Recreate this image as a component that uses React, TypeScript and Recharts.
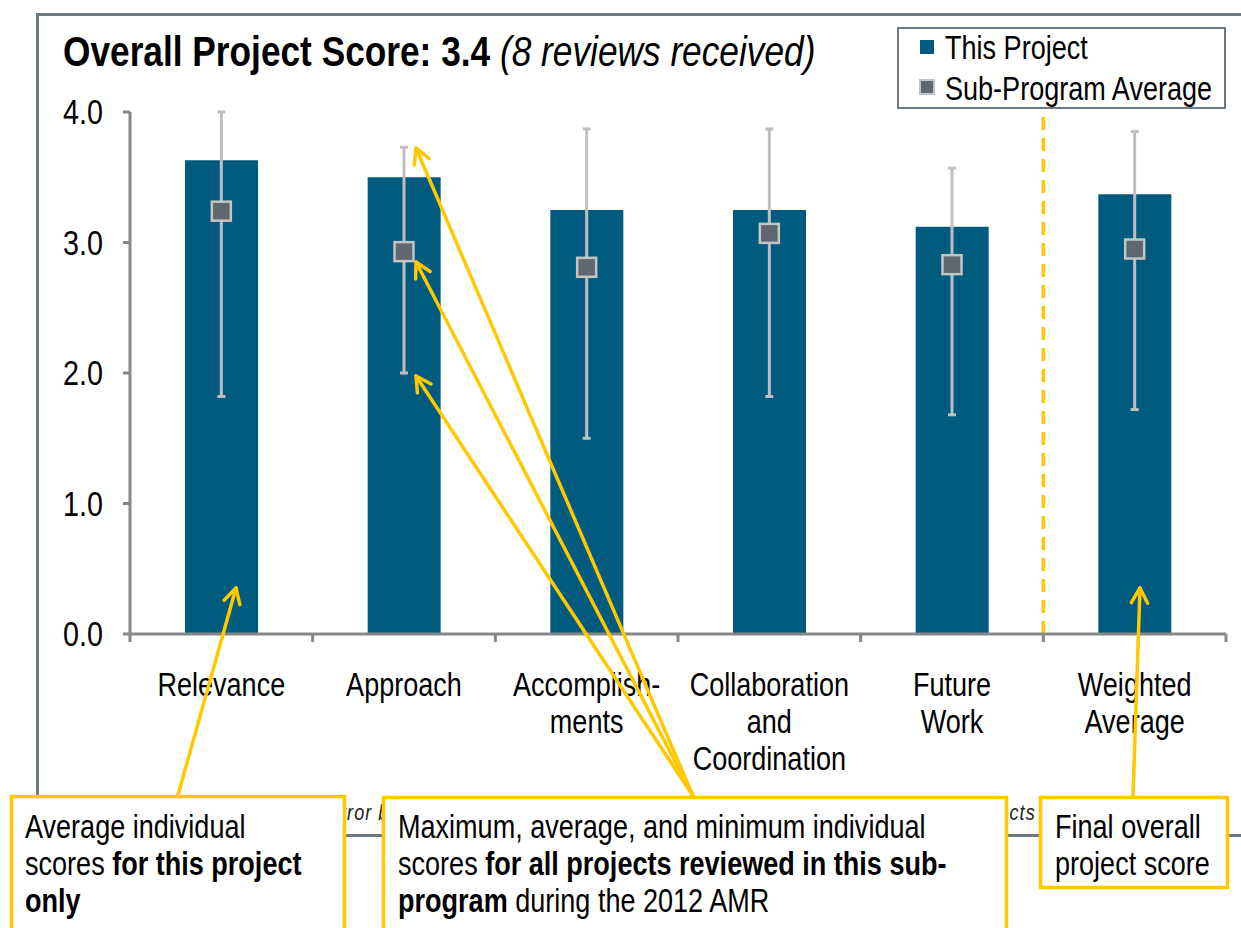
import React from 'react';
import { ComposedChart, Bar, Scatter, ErrorBar, XAxis, YAxis, ReferenceLine } from 'recharts';

const categories = ['Relevance', 'Approach', 'Accomplish-\nments', 'Collaboration\nand\nCoordination', 'Future\nWork', 'Weighted\nAverage'];
const projectScores = [3.63, 3.5, 3.25, 3.25, 3.12, 3.37];
const subProgramAvg = [3.24, 2.93, 2.81, 3.07, 2.83, 2.95];
const subProgramMax = [4.0, 3.73, 3.87, 3.87, 3.57, 3.85];
const subProgramMin = [1.82, 2.0, 1.5, 1.82, 1.68, 1.72];
const yTicks = [0, 1, 2, 3, 4];
const xTicks = [0, 0.5, 1, 1.5, 2, 2.5, 3, 3.5, 4, 4.5, 5, 5.5, 6];
const separatorAt = 5;

const data = categories.map((name, i) => ({
  name,
  pos: i + 0.5,
  project: projectScores[i],
  avg: subProgramAvg[i],
  err: [subProgramAvg[i] - subProgramMin[i], subProgramMax[i] - subProgramAvg[i]],
}));

const FONT = "'Liberation Sans', Arial, sans-serif";
const NARROW = 0.82;
const BAR = '#005B7F';
const MARK = '#5F6870';
const ERR = '#BFBFBF';
const AXIS = '#878787';
const GOLD = '#FFC800';
const FRAME = '#6E7880';

const NText = ({ x, y, anchor = 'start', size, children, ...rest }: any) => (
  <g transform={`translate(${x},${y}) scale(${NARROW},1)`}>
    <text x={0} y={0} textAnchor={anchor} fontSize={size} fontFamily={FONT} fill="#000" {...rest}>
      {children}
    </text>
  </g>
);

const XTick = (props: any) => {
  const { x, y, payload } = props;
  const v = Number(payload.value);
  if (Number.isInteger(v)) {
    return <line x1={x} y1={y} x2={x} y2={y + 8} stroke={AXIS} strokeWidth={3} />;
  }
  const idx = Math.floor(v);
  const lines = String(categories[idx] ?? '').split('\n');
  return (
    <g>
      {lines.map((l, i) => (
        <NText key={i} x={x} y={y + 62 + i * 37} anchor="middle" size={33}>{l}</NText>
      ))}
    </g>
  );
};

const YTick = (props: any) => {
  const { x, y, payload } = props;
  return <NText x={x} y={y + 12} anchor="end" size={35}>{Number(payload.value).toFixed(1)}</NText>;
};

const Square = (props: any) => {
  const { cx, cy } = props;
  if (cx == null || cy == null) return null;
  return <rect x={cx - 9.5} y={cy - 9.5} width={19} height={19} fill={MARK} stroke="#C4C4C4" strokeWidth={2.5} />;
};

const Arrow = ({ x1, y1, x2, y2 }: { x1: number; y1: number; x2: number; y2: number }) => {
  const ang = Math.atan2(y2 - y1, x2 - x1);
  const L = 17;
  const a = 0.5;
  const p1 = [x2 - L * Math.cos(ang - a), y2 - L * Math.sin(ang - a)];
  const p2 = [x2 - L * Math.cos(ang + a), y2 - L * Math.sin(ang + a)];
  return (
    <g stroke={GOLD} strokeWidth={3.5} fill="none" strokeLinecap="round" strokeLinejoin="round">
      <line x1={x1} y1={y1} x2={x2} y2={y2} />
      <polyline points={`${p1[0]},${p1[1]} ${x2},${y2} ${p2[0]},${p2[1]}`} />
    </g>
  );
};

export default function App() {
  return (
    <div style={{ position: 'absolute', left: 0, top: 0, width: 1241, height: 928, background: '#fff', overflow: 'hidden' }}>
      <div style={{ position: 'absolute', left: 0, top: 0 }}>
        <ComposedChart width={1241} height={928} data={data} margin={{ top: 112, right: 15, left: 70, bottom: 194 }}>
          <XAxis
            dataKey="pos"
            type="number"
            domain={[0, 6]}
            ticks={xTicks}
            interval={0}
            tick={<XTick />}
            tickLine={false}
            tickSize={0}
            tickMargin={0}
            height={100}
            axisLine={{ stroke: AXIS, strokeWidth: 3 }}
            allowDataOverflow
          />
          <YAxis
            domain={[0, 4]}
            ticks={yTicks}
            width={60}
            axisLine={{ stroke: AXIS, strokeWidth: 3 }}
            tickLine={{ stroke: AXIS, strokeWidth: 3 }}
            tickSize={7}
            tickMargin={20}
            tick={<YTick />}
          />
          <ReferenceLine x={separatorAt} stroke={GOLD} strokeWidth={3.5} strokeDasharray="13 8" />
          <Bar dataKey="project" fill={BAR} barSize={73} isAnimationActive={false} />
          <Scatter dataKey="avg" shape={<Square />} isAnimationActive={false}>
            <ErrorBar dataKey="err" direction="y" stroke={ERR} strokeWidth={3} width={4} isAnimationActive={false} />
          </Scatter>
        </ComposedChart>
      </div>
      <svg width={1241} height={928} style={{ position: 'absolute', left: 0, top: 0, pointerEvents: 'none' }}>
        <rect x={37.5} y={14.5} width={1230} height={821} fill="none" stroke={FRAME} strokeWidth={3} />
        <NText x={63} y={66} size={43}>
          <tspan fontWeight="bold">Overall Project Score: 3.4</tspan>
          <tspan fontStyle="italic"> (8 reviews received)</tspan>
        </NText>
        <rect x={898} y={28} width={327} height={80} fill="#fff" stroke={FRAME} strokeWidth={2} />
        <rect x={920} y={40} width={14} height={14} fill={BAR} />
        <NText x={945} y={59} size={33}>This Project</NText>
        <rect x={920} y={80} width={14} height={14} fill={MARK} stroke="#C4C4C4" strokeWidth={2} />
        <NText x={945} y={100} size={33}>Sub-Program Average</NText>

        <NText x={327} y={820} size={22} fontStyle="italic" fill="#222" textLength={863} lengthAdjust="spacing">Error bars represent the range of individual scores for all sub-program projects</NText>

        <rect x={11.5} y={796.5} width={333} height={150} fill="#fff" stroke={GOLD} strokeWidth={3.5} />
        <NText x={25} y={838} size={33}>Average individual</NText>
        <NText x={25} y={875} size={33}>
          <tspan>scores </tspan>
          <tspan fontWeight="bold">for this project</tspan>
        </NText>
        <NText x={25} y={912} size={33} fontWeight="bold">only</NText>

        <rect x={383.5} y={797.5} width={623} height={150} fill="#fff" stroke={GOLD} strokeWidth={3.5} />
        <NText x={398} y={838} size={33}>Maximum, average, and minimum individual</NText>
        <NText x={398} y={875} size={33}>
          <tspan>scores </tspan>
          <tspan fontWeight="bold">for all projects reviewed in this sub-</tspan>
        </NText>
        <NText x={398} y={912} size={33}>
          <tspan fontWeight="bold">program</tspan>
          <tspan> during the 2012 AMR</tspan>
        </NText>

        <rect x={1040.5} y={797.5} width={187} height={90} fill="#fff" stroke={GOLD} strokeWidth={3.5} />
        <NText x={1055} y={838} size={33}>Final overall</NText>
        <NText x={1055} y={875} size={33}>project score</NText>

        <Arrow x1={178} y1={795} x2={236} y2={588} />
        <Arrow x1={693} y1={796} x2={416} y2={148} />
        <Arrow x1={693} y1={796} x2={416} y2={262} />
        <Arrow x1={693} y1={796} x2={416} y2={376} />
        <Arrow x1={1133} y1={796} x2={1140} y2={588} />
      </svg>
    </div>
  );
}
